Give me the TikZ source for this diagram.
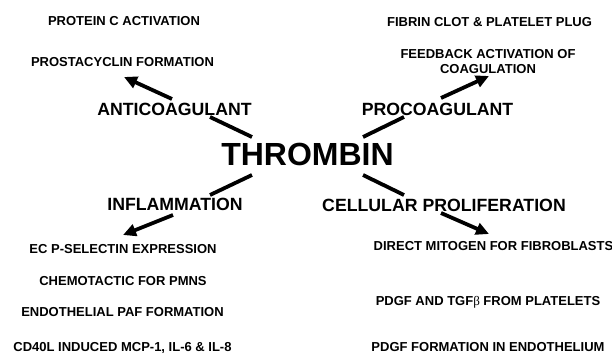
\documentclass[tikz,border=0pt]{standalone}
\usepackage{fontspec}
\setmainfont{Liberation Sans}
\usetikzlibrary{arrows.meta}
\tikzset{
  small/.style={font=\bfseries\fontsize{13}{15}\selectfont, inner sep=0pt, anchor=north, align=center},
  mid/.style={font=\bfseries\fontsize{17.7}{20}\selectfont, inner sep=0pt, anchor=north},
  big/.style={font=\bfseries\fontsize{32}{36}\selectfont, inner sep=0pt, anchor=north},
  link/.style={line width=3.8pt},
  arr/.style={line width=3.8pt, -{Triangle[length=13pt,width=12pt]}}
}
\begin{document}
\begin{tikzpicture}[x=1pt,y=-1pt]
\useasboundingbox[fill=white] (0,0) rectangle (612,355);
% labels
\node[big] (thrombin) at (307.5,143) {THROMBIN};
\node[mid] (anticoag) at (174.5,103) {ANTICOAGULANT};
\node[mid] (procoag) at (437.5,103) {PROCOAGULANT};
\node[mid] (inflam) at (175,198) {INFLAMMATION};
\node[mid] (cellprol) at (444,199) {CELLULAR PROLIFERATION};
\node[small] (protc) at (124,16) {PROTEIN C ACTIVATION};
\node[small] (prosta) at (122.5,57) {PROSTACYCLIN FORMATION};
\node[small] (fibrin) at (489.5,17) {FIBRIN CLOT \& PLATELET PLUG};
\node[small] (feedback) at (488,49) {FEEDBACK ACTIVATION OF\\COAGULATION};
\node[small] (psel) at (123,244) {EC P-SELECTIN EXPRESSION};
\node[small] (chemo) at (123,276) {CHEMOTACTIC FOR PMNS};
\node[small] (paf) at (122.5,307) {ENDOTHELIAL PAF FORMATION};
\node[small] (cd40) at (122.5,342) {CD40L INDUCED MCP-1, IL-6 \& IL-8};
\node[small] (mitogen) at (493.5,241) {DIRECT MITOGEN FOR FIBROBLASTS};
\node[small] (pdgftgf) at (488,296) {PDGF AND TGF{\fontspec{Liberation Serif}\mdseries β} FROM PLATELETS};
\node[small] (pdgfend) at (488,342.5) {PDGF FORMATION IN ENDOTHELIUM};
% connector end points
\coordinate (thNW) at (252,137);
\coordinate (thNE) at (363,137);
\coordinate (thSW) at (252,175);
\coordinate (thSE) at (363,175);
\coordinate (anIn) at (210,117);
\coordinate (anOut) at (172,99);
\coordinate (prIn) at (404,117);
\coordinate (prOut) at (441,98);
\coordinate (inIn) at (210,195);
\coordinate (inOut) at (173,215);
\coordinate (ceIn) at (404,195);
\coordinate (ceOut) at (441,213);
\coordinate (prostaTip) at (124,77);
\coordinate (feedTip) at (489,76);
\coordinate (pselTip) at (123,235);
\coordinate (mitoTip) at (489,234);
% connectors
\draw[link] (thNW) -- (anIn);
\draw[link] (thNE) -- (prIn);
\draw[link] (thSW) -- (inIn);
\draw[link] (thSE) -- (ceIn);
\draw[arr] (anOut) -- (prostaTip);
\draw[arr] (prOut) -- (feedTip);
\draw[arr] (inOut) -- (pselTip);
\draw[arr] (ceOut) -- (mitoTip);
\end{tikzpicture}
\end{document}
